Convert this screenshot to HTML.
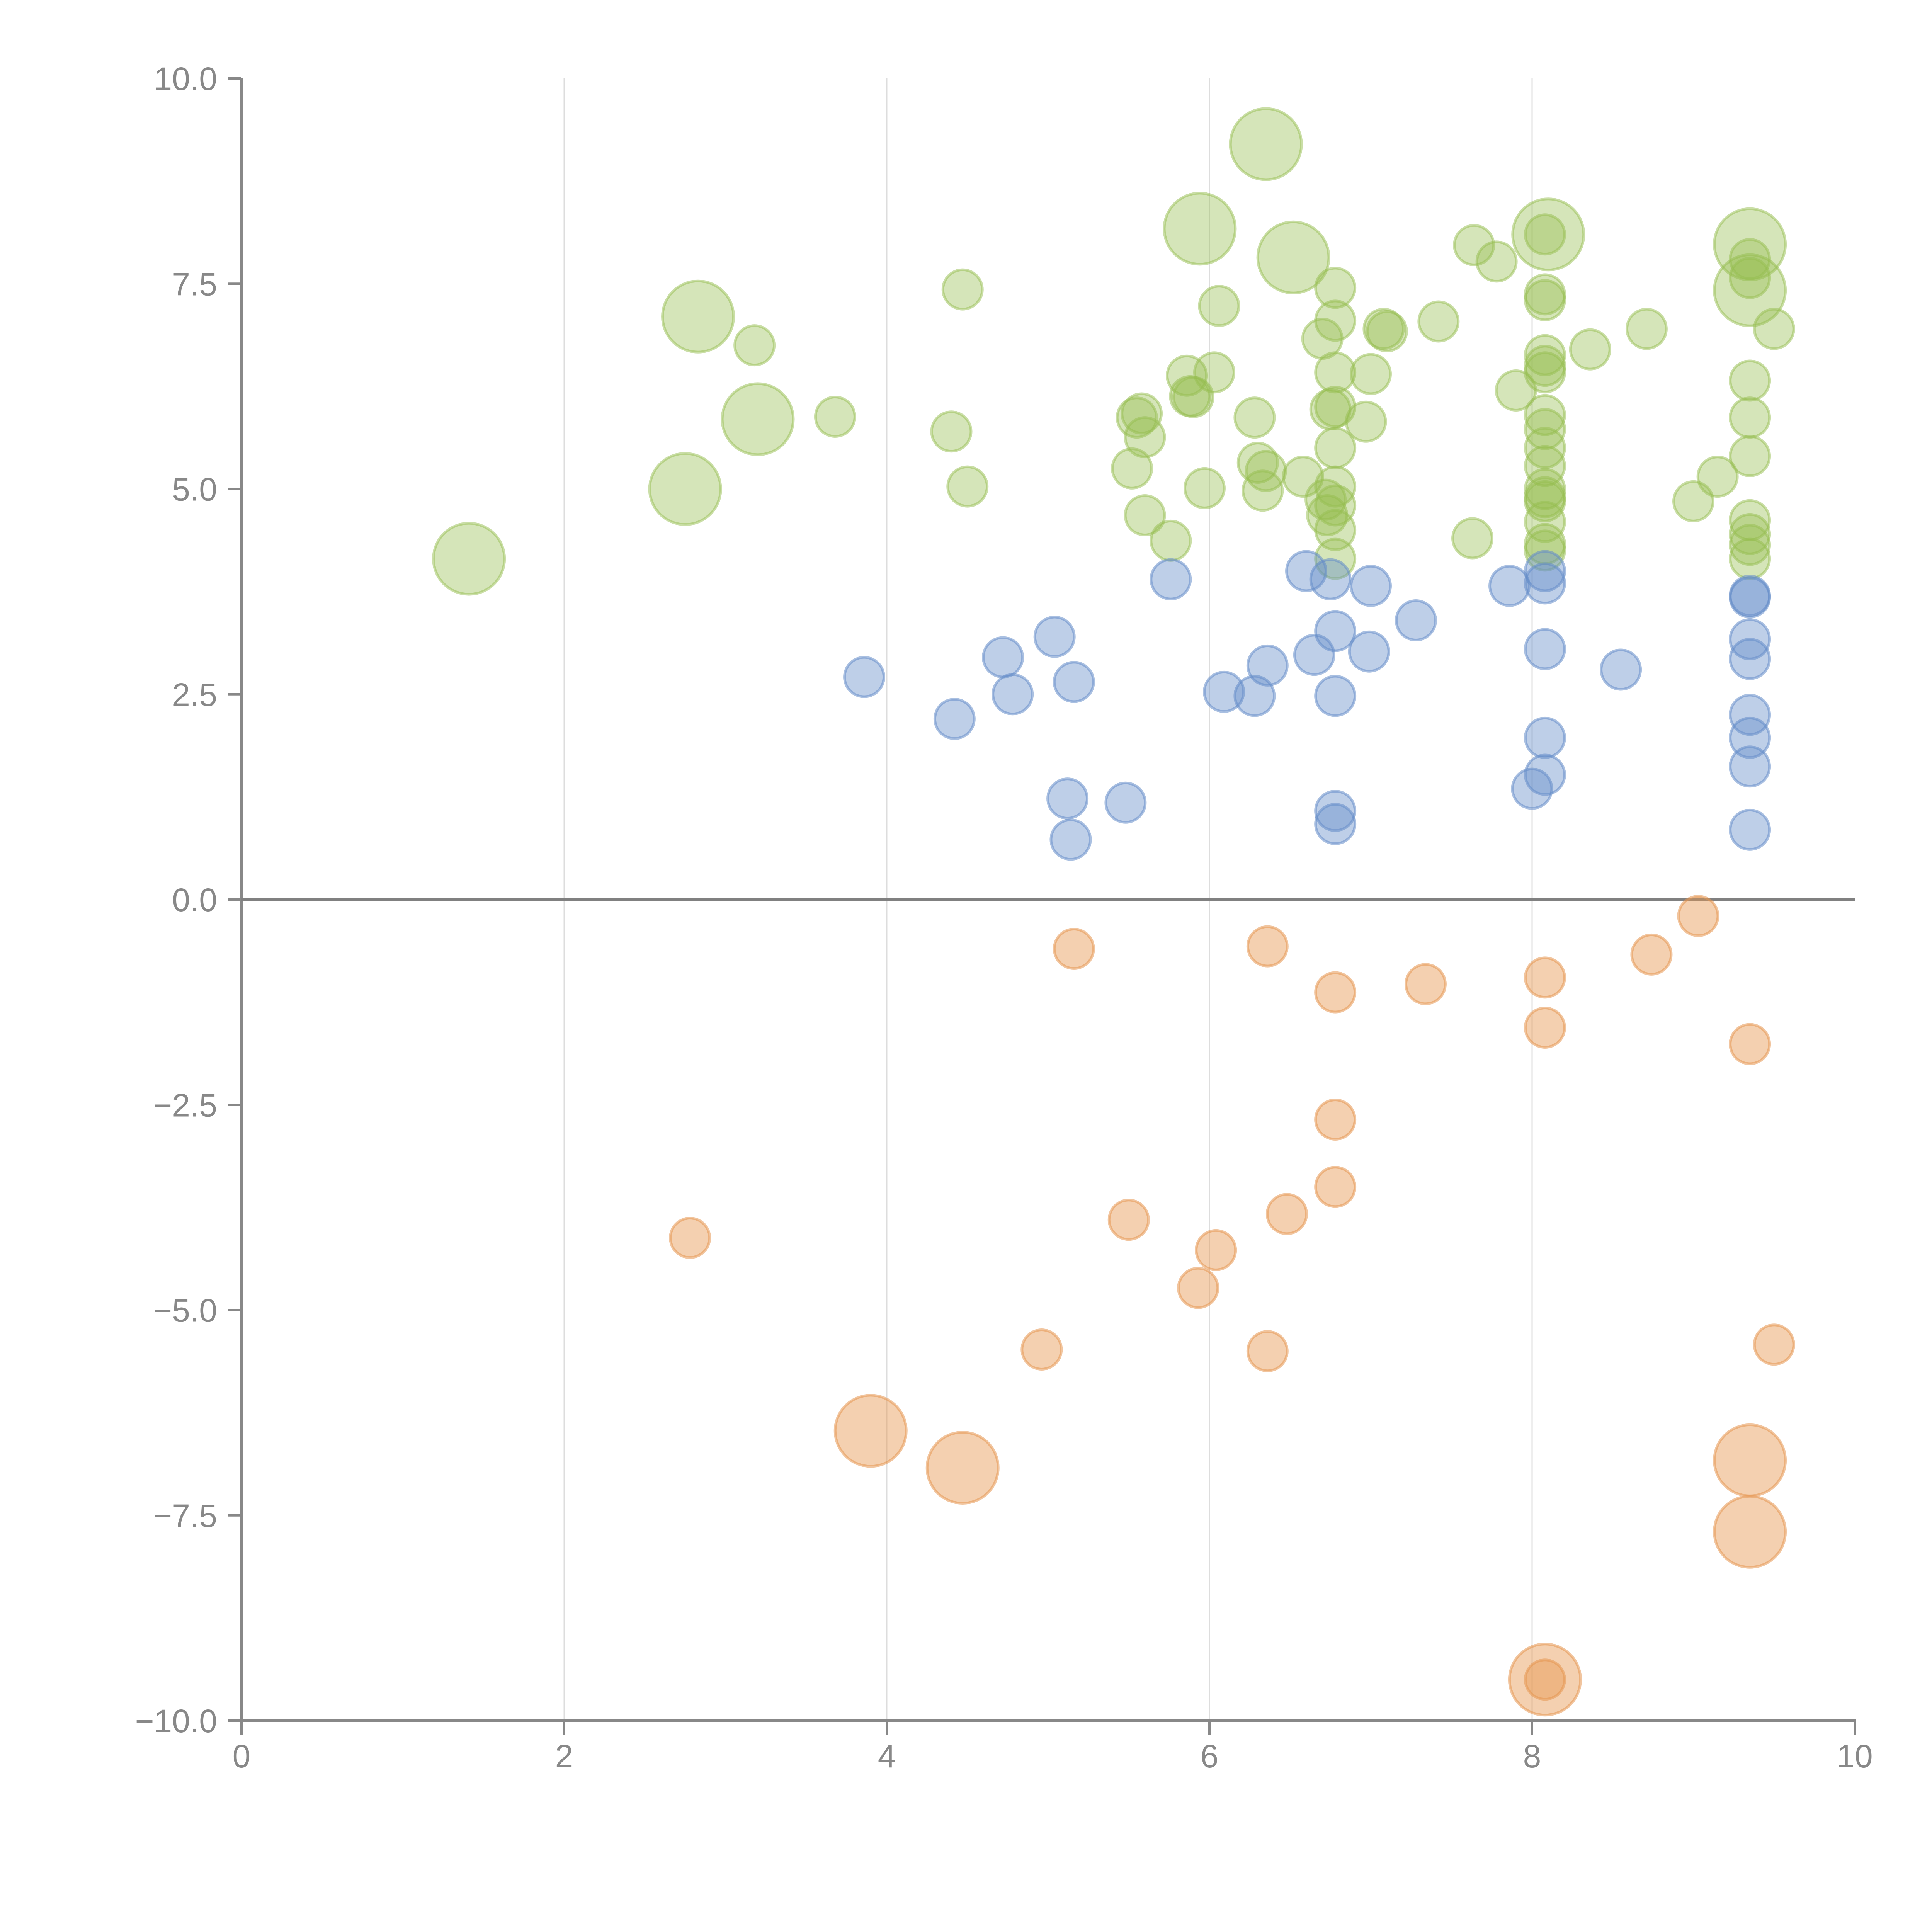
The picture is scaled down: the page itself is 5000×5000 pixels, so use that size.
<!DOCTYPE html>
<html><head><meta charset="utf-8"><style>
html,body{margin:0;padding:0;background:#fff;}
svg{display:block;font-family:"Liberation Sans",sans-serif;}
</style></head><body>
<svg id="chart" width="5000" height="5000" viewBox="0 0 5000 5000" xmlns="http://www.w3.org/2000/svg">
<g id="grid"></g>
<g id="axes"></g>
<g id="marks"></g>
</svg>
<script>
const xTicks = [0, 2, 4, 6, 8, 10];
const yTicks = [10, 7.5, 5, 2.5, 0, -2.5, -5, -7.5, -10];
const yTickLabels = ["10.0", "7.5", "5.0", "2.5", "0.0", "\u22122.5", "\u22125.0", "\u22127.5", "\u221210.0"];
// series: x, y, size (1 = small, 2 = large)
const greenX = [1.41,2.83,2.75,3.2,3.18,3.68,4.47,4.4,4.5,5.55,5.58,5.6,5.52,5.6,5.76,5.86,5.88,5.9,5.94,5.97,6.03,6.06,6.28,6.3,6.35,6.33,6.35,6.52,6.58,6.7,6.72,6.73,6.75,6.78,6.78,6.78,6.78,6.78,6.78,6.78,6.78,6.78,6.97,7.0,7.08,7.1,7.42,7.64,7.63,7.78,7.9,8.1,8.08,8.08,8.08,8.08,8.08,8.08,8.08,8.08,8.08,8.08,8.08,8.08,8.08,8.08,8.08,8.08,8.36,8.71,9.0,9.15,9.35,9.35,9.35,9.35,9.5,9.35,9.35,9.35,9.35,9.35,9.35,9.35];
const greenY = [4.15,7.1,5.0,5.85,6.75,5.88,7.43,5.7,5.03,5.87,5.92,5.63,5.25,4.68,4.37,6.38,6.13,6.12,8.17,5.01,6.42,7.23,5.87,5.32,5.22,4.98,9.2,7.82,5.15,6.83,4.87,4.68,5.97,6.0,7.45,7.05,6.42,5.5,5.03,4.8,4.5,4.15,5.82,6.4,6.95,6.92,7.04,7.97,4.4,7.77,6.2,8.1,8.1,7.37,7.3,6.63,6.5,6.42,5.9,5.73,5.5,5.28,5.0,4.9,4.85,4.6,4.33,4.25,6.7,6.95,4.85,5.15,7.98,7.42,7.8,7.57,6.95,6.32,5.87,5.4,4.62,4.45,4.32,4.15];
const greenS = [2,2,2,2,1,1,1,1,1,1,1,1,1,1,1,1,1,1,2,1,1,1,1,1,1,1,2,2,1,1,1,1,1,1,1,1,1,1,1,1,1,1,1,1,1,1,1,1,1,1,1,2,1,1,1,1,1,1,1,1,1,1,1,1,1,1,1,1,1,1,1,1,2,2,1,1,1,1,1,1,1,1,1,1];
const blueX = [3.86,4.42,4.72,4.78,5.04,5.12,5.14,5.16,5.48,5.76,6.09,6.28,6.36,6.6,6.65,6.75,6.78,6.78,6.78,6.78,6.99,7.0,7.28,7.86,8.0,8.08,8.08,8.08,8.08,8.08,8.55,9.35,9.35,9.35,9.35,9.35,9.35,9.35,9.35];
const blueY = [2.71,2.2,2.95,2.5,3.2,1.23,0.73,2.65,1.18,3.9,2.53,2.48,2.85,4.0,2.98,3.9,3.27,2.48,1.08,0.92,3.02,3.82,3.4,3.82,1.35,4.0,3.85,3.05,1.97,1.52,2.8,3.7,3.68,3.17,2.93,2.25,1.97,1.62,0.85];
const orangeX = [2.78,3.9,4.47,4.96,5.16,5.5,5.93,6.04,6.36,6.36,6.48,6.78,6.78,6.78,7.34,8.08,8.08,8.08,8.08,8.74,9.03,9.35,9.35,9.35,9.5];
const orangeY = [-4.12,-6.47,-6.92,-5.48,-0.6,-3.9,-4.73,-4.27,-0.57,-5.5,-3.83,-1.13,-2.68,-3.5,-1.03,-0.95,-1.56,-9.5,-9.5,-0.67,-0.2,-1.76,-6.83,-7.7,-5.42];
const orangeS = [1,2,2,1,1,1,1,1,1,1,1,1,1,1,1,1,1,2,1,1,1,1,2,2,1];

const NS = "http://www.w3.org/2000/svg";
const X = v => 625 + v * 417.5;
const Y = v => 2328 - v * 212.5;
const R = s => s === 2 ? 92 : 51;
function mk(tag, attrs, parent) {
  const e = document.createElementNS(NS, tag);
  for (const k in attrs) e.setAttribute(k, attrs[k]);
  parent.appendChild(e);
  return e;
}
const grid = document.getElementById('grid');
const axes = document.getElementById('axes');
const marks = document.getElementById('marks');

xTicks.forEach(t => {
  if (t > 0 && t < 10) {
    const g = mk('line', {x1: X(t), x2: X(t), y1: Y(10), y2: Y(-10), stroke: '#dddddd', 'stroke-width': 3}, grid);
    
    
  }
  const tk = mk('line', {x1: X(t), x2: X(t), y1: Y(-10), y2: Y(-10) + 36, stroke: '#888', 'stroke-width': 6}, axes);
  
  
  const tx = mk('text', {x: X(t), y: 4574, 'font-size': 84, fill: '#888', 'text-anchor': 'middle'}, axes);
  tx.textContent = String(t);
  
  
});
yTicks.forEach((t, i) => {
  const tk = mk('line', {x1: X(0) - 36, x2: X(0), y1: Y(t), y2: Y(t), stroke: '#888', 'stroke-width': 6}, axes);
  
  
  const tx = mk('text', {x: 562, y: Y(t) + 30, 'font-size': 84, fill: '#888', 'text-anchor': 'end'}, axes);
  tx.textContent = yTickLabels[i];
  
  
});
const ya = mk('line', {x1: X(0), x2: X(0), y1: Y(10), y2: Y(-10) + 3, stroke: '#888', 'stroke-width': 6}, axes);


const xa = mk('line', {x1: X(0), x2: X(10) + 3, y1: Y(-10), y2: Y(-10), stroke: '#888', 'stroke-width': 6}, axes);


const zl = mk('line', {x1: X(0), x2: X(10), y1: Y(0), y2: Y(0), stroke: '#808080', 'stroke-width': 8}, axes);



function series(xs, ys, ss, fill, stroke, name) {
  xs.forEach((x, i) => {
    const s = ss ? ss[i] : 1;
    const c = mk('circle', {cx: X(x), cy: Y(ys[i]), r: R(s), fill: fill, stroke: stroke, 'stroke-width': 7}, marks);
    
    
  });
}
series(greenX, greenY, greenS, 'rgba(150,190,80,0.4)', 'rgba(150,190,80,0.5)', 'green-bubble');
series(blueX, blueY, null, 'rgba(100,140,200,0.42)', 'rgba(100,140,200,0.55)', 'blue-bubble');
series(orangeX, orangeY, orangeS, 'rgba(230,150,80,0.45)', 'rgba(230,150,80,0.55)', 'orange-bubble');
</script>
</body></html>
